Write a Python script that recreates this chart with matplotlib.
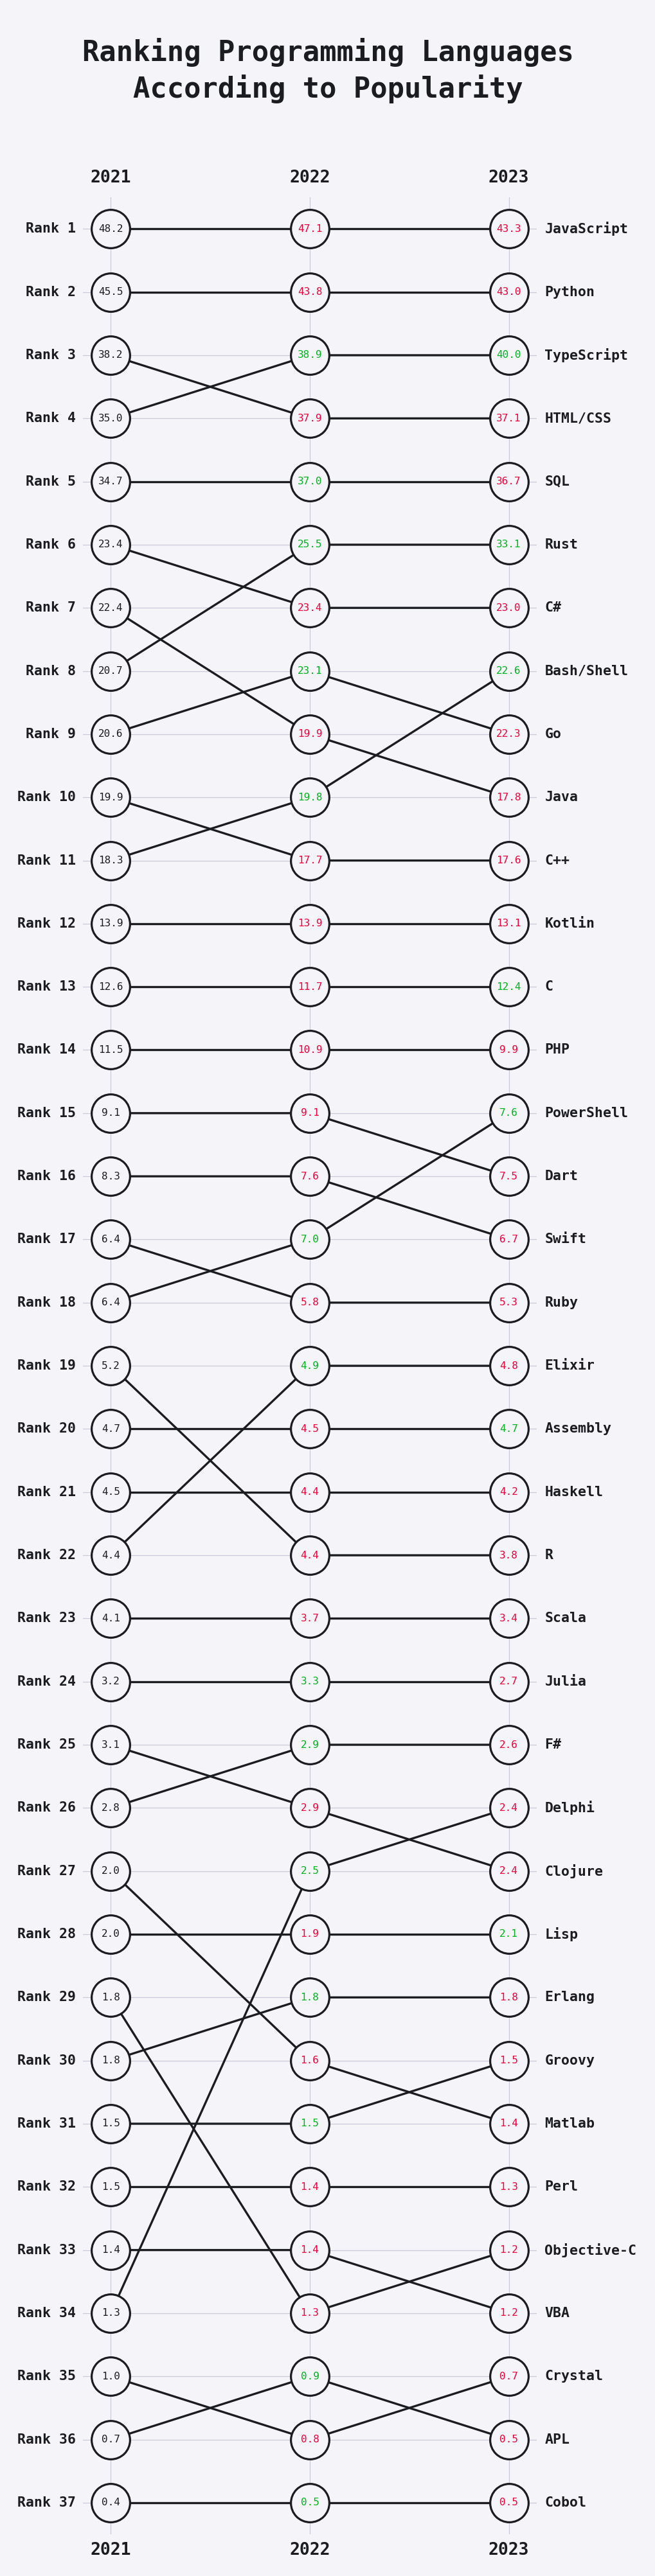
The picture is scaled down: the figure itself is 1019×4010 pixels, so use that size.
import matplotlib
matplotlib.use("Agg")
import matplotlib.pyplot as plt

# data, ordered by 2023 rank
languages = ["JavaScript", "Python", "TypeScript", "HTML/CSS", "SQL", "Rust", "C#",
             "Bash/Shell", "Go", "Java", "C++", "Kotlin", "C", "PHP", "PowerShell",
             "Dart", "Swift", "Ruby", "Elixir", "Assembly", "Haskell", "R", "Scala",
             "Julia", "F#", "Delphi", "Clojure", "Lisp", "Erlang", "Groovy", "Matlab",
             "Perl", "Objective-C", "VBA", "Crystal", "APL", "Cobol"]
years = [2021, 2022, 2023]
rank_2021 = [1, 2, 4, 3, 5, 8, 6, 11, 9, 7, 10, 12, 13, 14, 18, 15, 16, 17, 22, 20, 21,
             19, 23, 24, 26, 34, 25, 28, 30, 31, 27, 32, 29, 33, 35, 36, 37]
rank_2022 = [1, 2, 3, 4, 5, 6, 7, 10, 8, 9, 11, 12, 13, 14, 17, 15, 16, 18, 19, 20, 21,
             22, 23, 24, 25, 27, 26, 28, 29, 31, 30, 32, 34, 33, 36, 35, 37]
rank_2023 = [1, 2, 3, 4, 5, 6, 7, 8, 9, 10, 11, 12, 13, 14, 15, 16, 17, 18, 19, 20, 21,
             22, 23, 24, 25, 26, 27, 28, 29, 30, 31, 32, 33, 34, 35, 36, 37]
val_2021 = [48.2, 45.5, 35.0, 38.2, 34.7, 20.7, 23.4, 18.3, 20.6, 22.4, 19.9, 13.9, 12.6,
            11.5, 6.4, 9.1, 8.3, 6.4, 4.4, 4.7, 4.5, 5.2, 4.1, 3.2, 2.8, 1.3, 3.1, 2.0,
            1.8, 1.5, 2.0, 1.5, 1.8, 1.4, 1.0, 0.7, 0.4]
val_2022 = [47.1, 43.8, 38.9, 37.9, 37.0, 25.5, 23.4, 19.8, 23.1, 19.9, 17.7, 13.9, 11.7,
            10.9, 7.0, 9.1, 7.6, 5.8, 4.9, 4.5, 4.4, 4.4, 3.7, 3.3, 2.9, 2.5, 2.9, 1.9,
            1.8, 1.5, 1.6, 1.4, 1.3, 1.4, 0.8, 0.9, 0.5]
val_2023 = [43.3, 43.0, 40.0, 37.1, 36.7, 33.1, 23.0, 22.6, 22.3, 17.8, 17.6, 13.1, 12.4,
            9.9, 7.6, 7.5, 6.7, 5.3, 4.8, 4.7, 4.2, 3.8, 3.4, 2.7, 2.6, 2.4, 2.4, 2.1,
            1.8, 1.5, 1.4, 1.3, 1.2, 1.2, 0.7, 0.5, 0.5]
# rounded ties that still went up
tie_up_2022 = ["Erlang", "Groovy"]
tie_up_2023 = []

bg = "#f5f4f9"
ink = "#1b1b22"
grid_c = "#cbc9da"
green = "#00b51d"
red = "#f5003a"
mono = "DejaVu Sans Mono"

fig = plt.figure(figsize=(10.2, 40.1), dpi=100, facecolor=bg)
ax = fig.add_axes([0.1265, 0.0162, 0.692, 0.9072])
ax.set_facecolor(bg)
ax.set_xlim(2020.86, 2023.14)
ax.set_ylim(37.5, 0.5)

for y in rank_2023:
    ax.axhline(y, color=grid_c, lw=0.9, zorder=0)
for x in years:
    ax.axvline(x, color=grid_c, lw=0.9, zorder=0)

def col(v, prev, name, ties_up):
    if v > prev or (v == prev and name in ties_up):
        return green
    return red

for i, name in enumerate(languages):
    ranks = [rank_2021[i], rank_2022[i], rank_2023[i]]
    vals = [val_2021[i], val_2022[i], val_2023[i]]
    ax.plot(years, ranks, color=ink, lw=2.4, zorder=2, solid_capstyle="butt")
    ax.plot(years, ranks, "o", ms=43, mfc=bg, mec=ink, mew=2.3, zorder=3)
    colors = [ink,
              col(vals[1], vals[0], name, tie_up_2022),
              col(vals[2], vals[1], name, tie_up_2023)]
    for x, r, v, c in zip(years, ranks, vals, colors):
        ax.text(x, r, f"{v:.1f}", ha="center", va="center", fontsize=11.5,
                family=mono, color=c, zorder=4)
    ax.annotate(name, xy=(1, rank_2023[i]), xycoords=("axes fraction", "data"),
                xytext=(9, 0), textcoords="offset points", ha="left", va="center",
                fontsize=15.5, family=mono, fontweight="bold", color=ink)

for r in rank_2023:
    ax.annotate(f"Rank {r}", xy=(0, r), xycoords=("axes fraction", "data"),
                xytext=(-8, 0), textcoords="offset points", ha="right", va="center",
                fontsize=15.5, family=mono, fontweight="bold", color=ink)

for x in years:
    ax.annotate(str(x), xy=(x, 1), xycoords=("data", "axes fraction"),
                xytext=(0, 22), textcoords="offset points", ha="center", va="center",
                fontsize=19, family=mono, fontweight="bold", color=ink)
    ax.annotate(str(x), xy=(x, 0), xycoords=("data", "axes fraction"),
                xytext=(0, -18), textcoords="offset points", ha="center", va="center",
                fontsize=19, family=mono, fontweight="bold", color=ink)

ax.set_xticks([])
ax.set_yticks([])
for s in ax.spines.values():
    s.set_visible(False)

fig.text(0.5, 1 - 110 / 4010, "Ranking Programming Languages\nAccording to Popularity",
         ha="center", va="center", fontsize=31.5, family=mono, fontweight="bold",
         color=ink, linespacing=1.35)

fig.savefig("out.png", dpi=100, facecolor=bg)
